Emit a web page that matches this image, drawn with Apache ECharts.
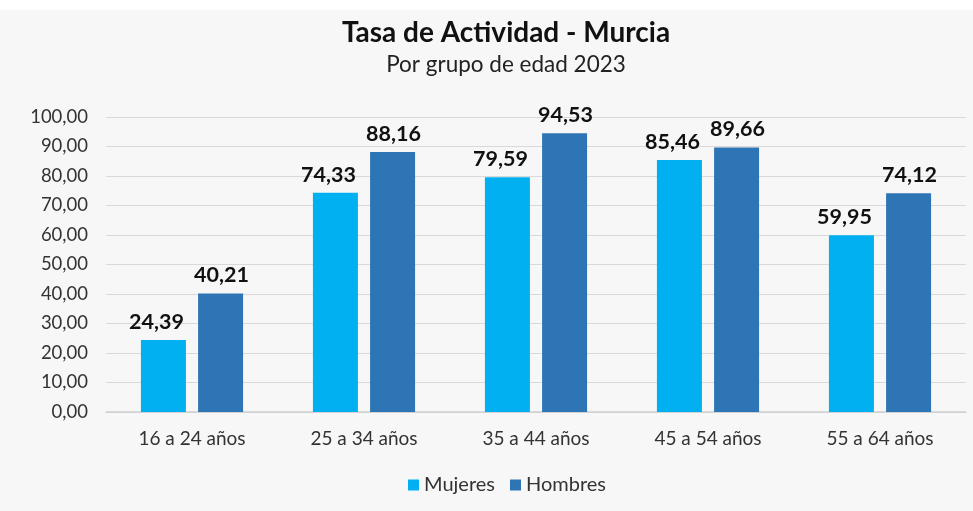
<!DOCTYPE html>
<html><head><meta charset="utf-8">
<script src="https://cdn.jsdelivr.net/npm/echarts@6/dist/echarts.min.js"></script>
<style>html,body{margin:0;padding:0;background:#fff}#c{width:973px;height:511px}</style>
</head><body><div id="c"></div>
<script>
const categories = ['16 a 24 años','25 a 34 años','35 a 44 años','45 a 54 años','55 a 64 años'];
const mujeres = [24.39, 74.33, 79.59, 85.46, 59.95];
const hombres = [40.21, 88.16, 94.53, 89.66, 74.12];
const titleText = 'Tasa de Actividad - Murcia';
const subtitleText = 'Por grupo de edad 2023';
const fmt = v => Number(v).toFixed(2).replace('.', ',');
const FONT = 'Lato';
const chart = echarts.init(document.getElementById('c'));
const lblBase = {show:true, position:'top', distance:7, formatter:p=>fmt(p.value), color:'#111', fontWeight:'bold', fontSize:21.5, fontFamily:FONT};
chart.setOption({
  backgroundColor:'#f7f7f7',
  graphic:[{type:'rect', shape:{x:0,y:0,width:973,height:10}, style:{fill:'#ffffff'}}],
  title:{text:titleText, subtext:subtitleText, left:501, textAlign:'center', top:14, itemGap:6,
    textStyle:{fontFamily:FONT, fontWeight:'bold', fontSize:28, color:'#111'},
    subtextStyle:{fontFamily:FONT, fontSize:22.5, color:'#222'}},
  legend:{bottom:11, left:403, itemWidth:11, itemHeight:11, itemGap:15, icon:'rect',
    textStyle:{fontFamily:FONT, fontSize:20, color:'#333'}, data:['Mujeres','Hombres']},
  grid:{left:106, right:7, top:117, bottom:99},
  xAxis:{type:'category', data:categories,
    axisLine:{lineStyle:{color:'#d0d0d0', width:1.5}}, axisTick:{show:false},
    axisLabel:{fontFamily:FONT, fontSize:19, color:'#333', margin:17}},
  yAxis:{type:'value', min:0, max:100, interval:10,
    axisLine:{show:false}, axisTick:{show:false},
    splitLine:{lineStyle:{color:'#d9d9d9'}},
    axisLabel:{fontFamily:FONT, fontSize:18.5, color:'#333', margin:18, formatter:v=>fmt(v)}},
  series:[
    {name:'Mujeres', type:'bar', data:mujeres, barWidth:45, barGap:'27%', itemStyle:{color:'#00b0f0'}, label:Object.assign({}, lblBase, {offset:[-7,0]})},
    {name:'Hombres', type:'bar', data:hombres, barWidth:45, itemStyle:{color:'#2e75b6'}, label:Object.assign({}, lblBase, {offset:[1,0]})}
  ]
});
</script></body></html>
